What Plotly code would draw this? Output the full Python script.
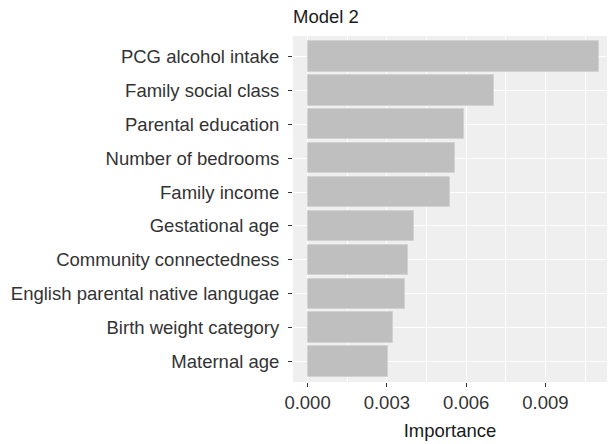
import plotly.graph_objects as go

# Data (top-to-bottom order as displayed)
features = [
    "PCG alcohol intake",
    "Family social class",
    "Parental education",
    "Number of bedrooms",
    "Family income",
    "Gestational age",
    "Community connectedness",
    "English parental native langugae",
    "Birth weight category",
    "Maternal age",
]
importance = [0.01102, 0.00705, 0.00592, 0.00558, 0.00540, 0.00401, 0.00380, 0.00367, 0.00324, 0.00304]
x_ticks = [0.000, 0.003, 0.006, 0.009]
x_tick_labels = ["0.000", "0.003", "0.006", "0.009"]

# plot bottom-to-top
cats = features[::-1]
vals = importance[::-1]

FONT = "Liberation Sans, Arial, sans-serif"
FS = 18.5
TXT = "#333333"

fig = go.Figure()
fig.add_trace(go.Bar(
    x=vals, y=cats, orientation="h",
    width=0.9,
    marker=dict(color="#BFBFBF", line=dict(color="#D2D2D2", width=1)),
    hoverinfo="x+y",
))

W, H = 609, 444
L, R, T, B = 293, 2, 36, 61.5

fig.update_layout(
    width=W, height=H,
    margin=dict(l=L, r=R, t=T, b=B, pad=0),
    paper_bgcolor="white",
    plot_bgcolor="#EFEFEF",
    showlegend=False,
    bargap=0,
    font=dict(family=FONT, size=FS, color=TXT),
    title=dict(
        text="Model 2",
        font=dict(family=FONT, size=FS, color="#1a1a1a"),
        xref="paper", x=0, xanchor="left",
        yref="container", y=1 - 17 / H, yanchor="middle",
    ),
)

fig.update_xaxes(
    range=[-0.00055, 0.01133],
    tickmode="array", tickvals=x_ticks, ticktext=x_tick_labels,
    ticks="outside", ticklen=4, tickwidth=1, tickcolor="#333333",
    tickfont=dict(family=FONT, size=FS, color=TXT),
    showgrid=True, gridcolor="white", gridwidth=1.3,
    minor=dict(tickmode="array", tickvals=[-0.0015, 0.0015, 0.0045, 0.0075, 0.0105],
               showgrid=True, gridcolor="white", gridwidth=0.6, ticks=""),
    zeroline=False, showline=False,
    title=dict(text="Importance", font=dict(family=FONT, size=FS, color="#1a1a1a"), standoff=11),
)

fig.update_yaxes(
    type="category",
    categoryorder="array", categoryarray=cats,
    range=[-0.6, 9.6],
    ticks="outside", ticklen=4, tickwidth=1, tickcolor="#333333",
    tickfont=dict(family=FONT, size=FS, color=TXT),
    showgrid=True, gridcolor="white", gridwidth=1.3,
    zeroline=False, showline=False,
    ticklabelstandoff=5,
)

fig.write_html(
    "out.html",
    config={"displayModeBar": False},
    post_script="document.body.style.margin='0';document.body.style.padding='0';",
)
